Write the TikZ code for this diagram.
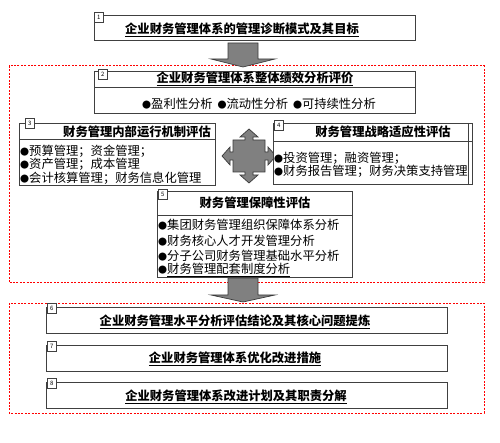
\documentclass[tikz,border=0pt]{standalone}
\usepackage{fontspec}
\setmainfont{Noto Sans CJK SC}
\usetikzlibrary{positioning}
\definecolor{boxline}{HTML}{404040}
\definecolor{arrowfill}{HTML}{808080}
\definecolor{arrowline}{HTML}{3A3A3A}
\newcommand{\mybul}{{\fontsize{9}{9}\selectfont ●}}
\tikzset{
  box/.style={draw=boxline, line width=0.9pt, anchor=north west, inner sep=0pt, fill=white},
  redframe/.style={draw=red, line width=1pt, dash pattern=on 2pt off 1.4pt},
  bigarrow/.style={fill=arrowfill, draw=arrowline, line width=0.7pt},
  titletext/.style={font=\fontsize{12.3}{14}\selectfont\bfseries, inner sep=0pt},
  bodytext/.style={font=\fontsize{12.3}{14}\selectfont, inner sep=0pt, anchor=west},
  numtag/.style={draw=boxline, line width=0.6pt, fill=white, minimum width=9pt, minimum height=10pt, inner sep=0pt, anchor=north west, font=\fontsize{6}{6}\selectfont},
}
\begin{document}
\begin{tikzpicture}[x=1pt,y=-1pt]
\useasboundingbox[fill=white] (0,0) rectangle (500,443);

% red dashed frames
\draw[redframe] (9,66) rectangle (484,283);
\draw[redframe] (9,303) rectangle (484,413);

% box 1
\node[box, minimum width=321pt, minimum height=25pt] (b1) at (94,15) {};
\node[numtag] (n1) at (94,12) {1};
\node[titletext] (t1) at (242,30) {\underline{企业财务管理体系的管理诊断模式及其目标}};

% arrow 1
\draw[bigarrow] (228,43) -- (258,43) -- (258,59) -- (275,59) -- (243,67) -- (211,59) -- (228,59) -- cycle;

% box 2
\node[box, minimum width=321pt, minimum height=42pt] (b2) at (94,71) {};
\draw[boxline, line width=0.9pt] (b2.west |- 0,87) -- (b2.east |- 0,87);
\node[numtag] (n2) at (98,69) {2};
\node[titletext] (t2) at (255,79) {\underline{企业财务管理体系整体绩效分析评价}};
\node[bodytext] (t2a) at (142,104) {\mybul 盈利性分析\hspace{0.4em}\mybul 流动性分析\hspace{0.4em}\mybul 可持续性分析};

% four-way arrow
\begin{scope}[shift={(249,156)}]
\draw[bigarrow] (0,-27) -- (9,-19) -- (4,-19) -- (4,-16) -- (16,-16) -- (16,-4) -- (19,-4) -- (19,-9) -- (27,0) -- (19,9) -- (19,4) -- (16,4) -- (16,16) -- (4,16) -- (4,19) -- (9,19) -- (0,27) -- (-9,19) -- (-4,19) -- (-4,16) -- (-16,16) -- (-16,4) -- (-19,4) -- (-19,9) -- (-27,0) -- (-19,-9) -- (-19,-4) -- (-16,-4) -- (-16,-16) -- (-4,-16) -- (-4,-19) -- (-9,-19) -- cycle;
\end{scope}

% box 3
\node[box, minimum width=196pt, minimum height=62pt, fill=none] (b3) at (19,123) {};
\draw[boxline, line width=0.9pt] (b3.west |- 0,139) -- (b3.east |- 0,139);
\node[numtag] (n3) at (25,118) {3};
\node[titletext] (t3) at (137,132) {财务管理内部运行机制评估};
\node[bodytext] (t3a) at (20,151) {\mybul 预算管理；资金管理；};
\node[bodytext] (t3b) at (20,164) {\mybul 资产管理；成本管理};
\node[bodytext] (t3c) at (20,178) {\mybul 会计核算管理；财务信息化管理};

% box 4
\node[box, minimum width=199pt, minimum height=61pt] (b4) at (273,123) {};
\draw[boxline, line width=0.9pt] (b4.west |- 0,141) -- (b4.east |- 0,141);
\draw[boxline, line width=0.6pt] (468,123) -- (468,184);
\node[numtag] (n4) at (274,120) {4};
\node[titletext] (t4) at (383,132) {财务管理战略适应性评估};
\node[bodytext] (t4a) at (274,158) {\mybul 投资管理；融资管理；};
\node[bodytext] (t4b) at (274,171) {\mybul 财务报告管理；财务决策支持管理};

% arrow 2
\draw[bigarrow] (228,278) -- (258,278) -- (258,295) -- (275,295) -- (243,302) -- (211,295) -- (228,295) -- cycle;

% box 5
\node[box, minimum width=195pt, minimum height=86pt] (b5) at (157,191) {};
\draw[boxline, line width=0.9pt] (b5.west |- 0,215) -- (b5.east |- 0,215);
\node[numtag] (n5) at (158,189) {5};
\node[titletext] (t5) at (255,203) {财务管理保障性评估};
\node[bodytext] (t5a) at (158,225) {\mybul 集团财务管理组织保障体系分析};
\node[bodytext] (t5b) at (158,241) {\mybul 财务核心人才开发管理分析};
\node[bodytext] (t5c) at (158,256) {\mybul 分子公司财务管理基础水平分析};
\node[bodytext] (t5d) at (158,270) {\mybul \underline{财务管理配套制度分析}};

% boxes 6-8
\node[box, minimum width=401pt, minimum height=26pt] (b6) at (46,307) {};
\node[numtag] (n6) at (47,303) {6};
\node[titletext] (t6) at (235,322) {\underline{企业财务管理水平分析评估结论及其核心问题提炼}};

\node[box, minimum width=401pt, minimum height=26pt] (b7) at (46,345) {};
\node[numtag] (n7) at (47,341) {7};
\node[titletext] (t7) at (235,359) {\underline{企业财务管理体系优化改进措施}};

\node[box, minimum width=401pt, minimum height=26pt] (b8) at (46,382) {};
\node[numtag] (n8) at (47,378) {8};
\node[titletext] (t8) at (236,397) {\underline{企业财务管理体系改进计划及其职责分解}};
\end{tikzpicture}
\end{document}
